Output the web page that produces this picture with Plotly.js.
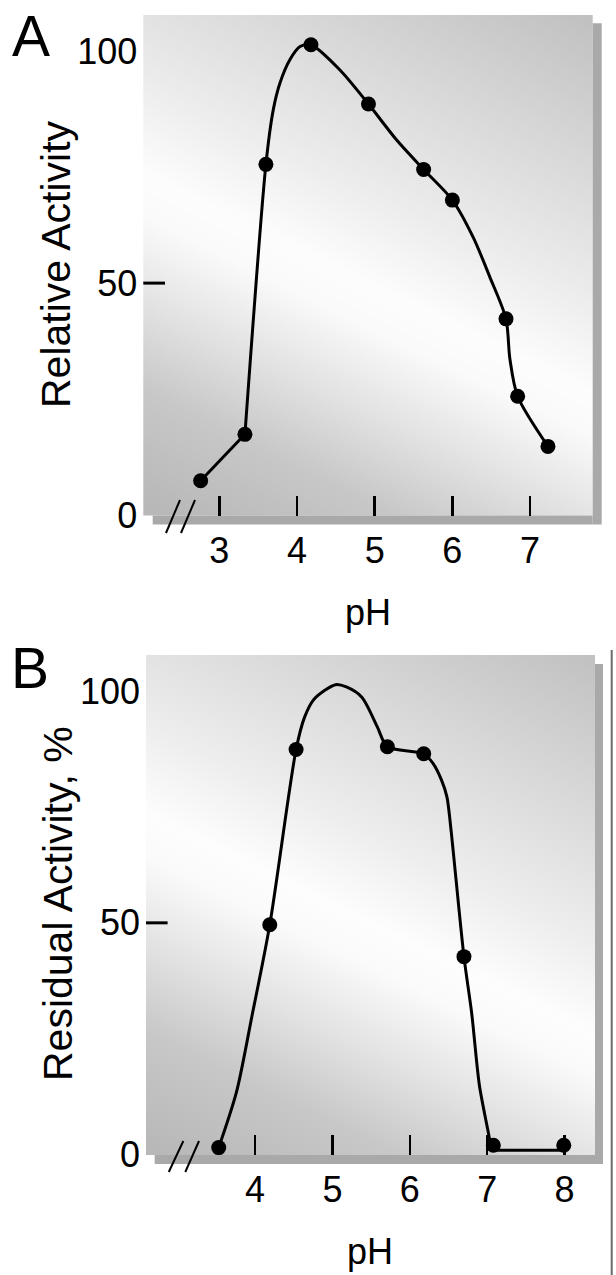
<!DOCTYPE html>
<html>
<head>
<meta charset="utf-8">
<script src="https://cdn.plot.ly/plotly-3.0.1.min.js"></script>
<style>
  html, body { margin: 0; padding: 0; background: #ffffff; }
  #chart { width: 616px; height: 1275px; }
</style>
</head>
<body>
<div id="chart"></div>
<script>
// ---------- Panel A data (pH vs relative activity) ----------
const phA  = [2.76, 3.33, 3.60, 4.18, 4.92, 5.63, 6.00, 6.69, 6.84, 7.23];
const actA = [7.4, 17.4, 75.6, 101.4, 88.6, 74.5, 67.9, 42.3, 25.6, 14.8];
// fitted smooth curve as drawn in panel A
const fitPhA  = [3.33, 3.60, 3.695, 3.78, 3.91, 4.04, 4.18, 4.55, 4.92, 5.28, 5.63, 6.00, 6.27, 6.48, 6.69, 6.74, 6.84, 7.23];
const fitActA = [17.4, 75.6, 87.4, 93.1, 98.2, 101.0, 101.4, 96.0, 88.6, 80.9, 74.5, 67.9, 59.8, 51.4, 42.3, 33.7, 25.6, 14.8];
const xTicksA = [3, 4, 5, 6, 7];

// ---------- Panel B data (pH vs residual activity, %) ----------
const phB  = [3.53, 4.19, 4.53, 5.71, 6.18, 6.70, 7.08, 7.99];
const actB = [1.5, 49.6, 87.4, 88.0, 86.5, 42.7, 2.0, 2.0];
// fitted smooth curve as drawn in panel B
const fitPhB  = [3.53, 3.76, 3.96, 4.19, 4.53, 4.64, 4.77, 5.04, 5.18, 5.38, 5.58, 5.71, 6.18, 6.30, 6.41, 6.48, 6.53, 6.70, 6.80, 6.90, 7.03, 7.05];
const fitActB = [1.5, 13.5, 29.9, 49.6, 87.4, 94.4, 98.4, 101.4, 100.9, 98.7, 92.3, 88.0, 86.5, 84.4, 80.8, 77.2, 70.5, 42.7, 30.5, 14.9, 3.4, 0.9];
const flatPhB  = [7.05, 7.99];
const flatActB = [0.9, 0.9];
const xTicksB = [4, 5, 6, 7, 8];

const yTicks = [0, 50, 100];

// ---------- geometry helpers ----------
const W = 616, H = 1275;
const px = v => v / W;
const py = v => 1 - v / H;

const boxA = {l: 143.3, r: 592.7, t: 15, b: 515.5};
const boxB = {l: 146, r: 595, t: 655, b: 1155};

function gradientURL() {
  const w = 449, h = 500;
  const c = document.createElement('canvas');
  c.width = w; c.height = h;
  const ctx = c.getContext('2d');
  const g = ctx.createLinearGradient(-120.6, 431, 164, -149.6);
  g.addColorStop(0.00, '#b8b8b8');
  g.addColorStop(0.16, '#c8c8c8');
  g.addColorStop(0.28, '#e2e2e2');
  g.addColorStop(0.40, '#fafafa');
  g.addColorStop(0.46, '#fdfdfd');
  g.addColorStop(0.58, '#eeeeee');
  g.addColorStop(0.78, '#d8d8d8');
  g.addColorStop(1.00, '#bfbfbf');
  ctx.fillStyle = g;
  ctx.fillRect(0, 0, w, h);
  return c.toDataURL('image/png');
}
const grad = gradientURL();

const FONT = 'Liberation Sans, Arial, sans-serif';
const lineStyle = {color: '#000000', width: 3};
const markerStyle = {color: '#000000', size: 15};

const traces = [
  // Panel A
  {x: phA.slice(0, 2), y: actA.slice(0, 2), mode: 'lines', line: Object.assign({shape: 'linear'}, lineStyle), xaxis: 'x', yaxis: 'y', hoverinfo: 'skip'},
  {x: fitPhA, y: fitActA, mode: 'lines', line: Object.assign({shape: 'spline', smoothing: 0.8}, lineStyle), xaxis: 'x', yaxis: 'y', hoverinfo: 'skip'},
  {x: phA, y: actA, mode: 'markers', marker: markerStyle, xaxis: 'x', yaxis: 'y'},
  // Panel B
  {x: fitPhB, y: fitActB, mode: 'lines', line: Object.assign({shape: 'spline', smoothing: 0.8}, lineStyle), xaxis: 'x2', yaxis: 'y2', hoverinfo: 'skip'},
  {x: flatPhB, y: flatActB, mode: 'lines', line: Object.assign({shape: 'linear'}, lineStyle), xaxis: 'x2', yaxis: 'y2', hoverinfo: 'skip'},
  {x: phB, y: actB, mode: 'markers', marker: markerStyle, xaxis: 'x2', yaxis: 'y2'}
];

function xAxis(box, range, ticks) {
  return {
    domain: [px(box.l), px(box.r)],
    range: range,
    showgrid: false, zeroline: false, showline: false,
    ticks: 'inside', ticklen: 20, tickwidth: 2.5, tickcolor: '#000',
    tickvals: ticks, ticktext: ticks.map(String),
    tickfont: {family: FONT, size: 36, color: '#000'},
    ticklabelstandoff: 10,
    fixedrange: true
  };
}
function yAxis(box, anchor) {
  return {
    domain: [py(box.b), py(box.t)],
    range: [-0.1, 107.8],
    anchor: anchor,
    showgrid: false, zeroline: false, showline: false,
    ticks: '',
    tickvals: yTicks, ticktext: yTicks.map(String),
    tickfont: {family: FONT, size: 36, color: '#000'},
    ticklabelstandoff: 5,
    fixedrange: true
  };
}

const shadow = '#a9a9a9';
const shapes = [
  // shadows A
  {type: 'rect', xref: 'paper', yref: 'paper', x0: px(boxA.r), x1: px(601.7), y0: py(23.3), y1: py(524.5), fillcolor: shadow, line: {width: 0}, layer: 'below'},
  {type: 'rect', xref: 'paper', yref: 'paper', x0: px(152.7), x1: px(boxA.r), y0: py(boxA.b), y1: py(524.5), fillcolor: shadow, line: {width: 0}, layer: 'below'},
  // shadows B
  {type: 'rect', xref: 'paper', yref: 'paper', x0: px(boxB.r), x1: px(603), y0: py(664), y1: py(1164), fillcolor: shadow, line: {width: 0}, layer: 'below'},
  {type: 'rect', xref: 'paper', yref: 'paper', x0: px(154.7), x1: px(boxB.r), y0: py(boxB.b), y1: py(1164), fillcolor: shadow, line: {width: 0}, layer: 'below'},
  // y tick at 50
  {type: 'line', xref: 'paper', yref: 'y', x0: px(boxA.l), x1: px(165), y0: 50, y1: 50, line: {color: '#000', width: 3}},
  {type: 'line', xref: 'paper', yref: 'y2', x0: px(boxB.l), x1: px(167.6), y0: 50, y1: 50, line: {color: '#000', width: 3}},
  // axis break marks
  {type: 'line', xref: 'paper', yref: 'paper', x0: px(166), y0: py(533), x1: px(180), y1: py(500), line: {color: '#000', width: 2}},
  {type: 'line', xref: 'paper', yref: 'paper', x0: px(181), y0: py(533), x1: px(195), y1: py(500), line: {color: '#000', width: 2}},
  {type: 'line', xref: 'paper', yref: 'paper', x0: px(168.8), y0: py(1172), x1: px(183.3), y1: py(1141), line: {color: '#000', width: 2}},
  {type: 'line', xref: 'paper', yref: 'paper', x0: px(185.3), y0: py(1172), x1: px(199), y1: py(1141), line: {color: '#000', width: 2}},
  // thin vertical rule at right edge of panel B
  {type: 'line', xref: 'paper', yref: 'paper', x0: px(611.7), x1: px(611.7), y0: py(650), y1: py(1275), line: {color: '#6a6a6a', width: 2}}
];

const images = [
  {source: grad, xref: 'paper', yref: 'paper', x: px(boxA.l), y: py(boxA.t), sizex: px(boxA.r) - px(boxA.l), sizey: py(boxA.t) - py(boxA.b), sizing: 'stretch', xanchor: 'left', yanchor: 'top', layer: 'below'},
  {source: grad, xref: 'paper', yref: 'paper', x: px(boxB.l), y: py(boxB.t), sizex: px(boxB.r) - px(boxB.l), sizey: py(boxB.t) - py(boxB.b), sizing: 'stretch', xanchor: 'left', yanchor: 'top', layer: 'below'}
];

function ann(text, x, y, size, angle) {
  return {text: text, xref: 'paper', yref: 'paper', x: px(x), y: py(y), xanchor: 'center', yanchor: 'middle',
          showarrow: false, textangle: angle || 0, font: {family: FONT, size: size, color: '#000'}};
}
const annotations = [
  ann('A', 31, 36, 57),
  ann('Relative Activity', 56, 264, 41, -90),
  ann('pH', 368, 612, 36),
  ann('B', 30, 668, 57),
  ann('Residual Activity, %', 58, 904, 41, -90),
  ann('pH', 370, 1251, 36)
];

const layout = {
  width: W, height: H,
  margin: {l: 0, r: 0, t: 0, b: 0, pad: 0},
  paper_bgcolor: '#ffffff',
  plot_bgcolor: 'rgba(0,0,0,0)',
  showlegend: false,
  xaxis: Object.assign(xAxis(boxA, [2.022, 7.806], xTicksA), {anchor: 'y'}),
  yaxis: yAxis(boxA, 'x'),
  xaxis2: Object.assign(xAxis(boxB, [2.59, 8.394], xTicksB), {anchor: 'y2'}),
  yaxis2: yAxis(boxB, 'x2'),
  shapes: shapes,
  images: images,
  annotations: annotations
};

Plotly.newPlot('chart', traces, layout, {displayModeBar: false, staticPlot: true});
</script>
</body>
</html>
